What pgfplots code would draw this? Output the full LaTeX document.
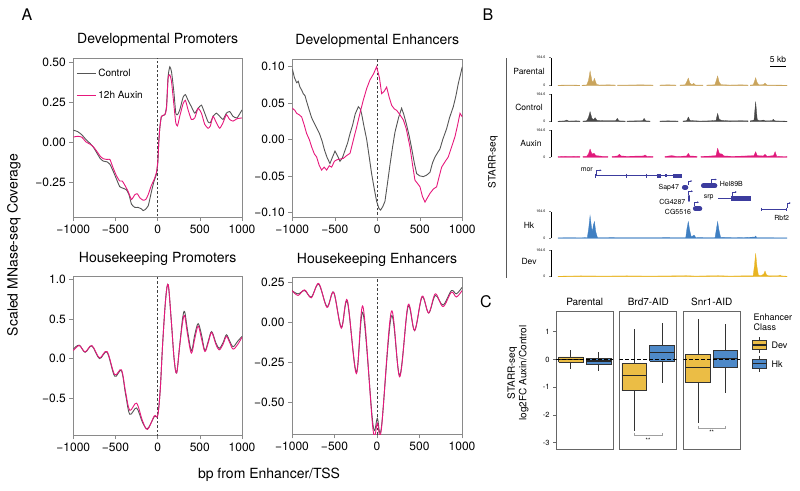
\documentclass[border=0pt]{standalone}
\usepackage{fontspec}
\setmainfont{TeX Gyre Heros}
\usepackage{pgfplots}
\pgfplotsset{compat=1.18}
\usetikzlibrary{arrows.meta}
\newcommand\fs[1]{\fontsize{#1}{#1}\selectfont}
\definecolor{ctrlc}{HTML}{555555}
\definecolor{auxc}{HTML}{E6187C}
\definecolor{framec}{HTML}{8A8A8A}
\definecolor{parc}{HTML}{C9A45C}
\definecolor{contc}{HTML}{474747}
\definecolor{auxtc}{HTML}{E0197B}
\definecolor{hkc}{HTML}{3F7FC2}
\definecolor{devc}{HTML}{E8B422}
\definecolor{genec}{HTML}{3C3C9E}
\definecolor{devbox}{HTML}{EBBD45}
\definecolor{hkbox}{HTML}{4E89C8}
\definecolor{boxc}{HTML}{333333}
\definecolor{facetc}{HTML}{666666}
\definecolor{brk}{HTML}{A0A0A0}
\pgfplotsset{
 panA/.style={scale only axis, anchor=south west, clip=true,
   xmin=-1000, xmax=1000, xtick={-1000,-500,0,500,1000},
   xticklabels={−1000,−500,0,500,1000},
   tick align=outside, xtick pos=left, ytick pos=left,
   major tick length=4pt, tick style={color=framec, line width=0.6pt},
   axis line style={color=framec, line width=0.7pt},
   ticklabel style={font=\fs{12}},
   title style={font=\fs{14}, yshift=2pt}},
 ctl/.style={color=ctrlc, line width=0.9pt},
 aux/.style={color=auxc, line width=0.9pt},
 zline/.style={color=black!75, line width=0.9pt, dash pattern=on 2.5pt off 2pt, forget plot},
 track/.style={scale only axis, anchor=south west, width=236pt,
   xmin=-3.06, xmax=100, ymin=0, ymax=164.6,
   axis x line=none, axis y line*=left, axis line style={-, line width=0.5pt},
   ytick={0,164.6}, yticklabels={0,164.6}, tick align=outside,
   major tick length=2pt, tick style={line width=0.5pt},
   yticklabel style={font=\fs{3.6}}},
 facet/.style={scale only axis, anchor=south west, height=137.3pt,
   xmin=0.47, xmax=2.53, ymin=-3.23, ymax=1.72, xtick=\empty, ytick=\empty,
   axis line style={color=facetc, line width=0.8pt}},
 med/.style={color=black!85, line width=1.3pt},
 zdash/.style={color=black, line width=0.8pt, dash pattern=on 3.5pt off 2.5pt},
 brkt/.style={color=brk, line width=0.6pt},
 par/.style={fill=parc, draw=parc, line width=0.3pt},
 con/.style={fill=contc, draw=contc, line width=0.3pt},
 axt/.style={fill=auxtc, draw=auxtc, line width=0.3pt},
}
% box: #1 x, #2 left, #3 right, #4 q1, #5 q3, #6 median, #7 lower whisker, #8 upper whisker, #9 fill
\newcommand\cbox[9]{%
 \addplot[color=boxc, line width=0.6pt] coordinates {(#1,#5) (#1,#8)};
 \addplot[color=boxc, line width=0.6pt] coordinates {(#1,#4) (#1,#7)};
 \addplot[draw=boxc, fill=#9, line width=0.6pt] coordinates {(#2,#4) (#3,#4) (#3,#5) (#2,#5) (#2,#4)};
 \addplot[med] coordinates {(#2,#6) (#3,#6)};
}
\begin{document}
\begin{tikzpicture}
\useasboundingbox (0,0) rectangle (800pt,-490pt);
\node[font=\fs{16}] at (27pt,-15pt) {A};
\node[font=\fs{16}] at (488pt,-15pt) {B};
\node[font=\fs{16}] at (486pt,-302pt) {C};
\node[font=\fs{14}, rotate=90] at (14pt,-245pt) {Scaled MNase-seq Coverage};
\node[font=\fs{14}] at (269pt,-475pt) {bp from Enhancer/TSS};

% ---------- A: Developmental Promoters
\begin{axis}[panA, at={(73.3pt,-217pt)}, width=168.7pt, height=159pt,
  ymin=-0.47, ymax=0.525, ytick={-0.25,0,0.25,0.5}, yticklabels={−0.25,0.00,0.25,0.50},
  title={Developmental Promoters},
  legend style={at={(0.0,0.955)}, anchor=north west, draw=none, fill=none, font=\fs{10}, row sep=9pt},
  legend cell align=left,
  legend image code/.code={\draw[#1] (0pt,0pt) -- (19pt,0pt);}]
\addplot[zline] coordinates {(0,-1) (0,1)};
\addplot[ctl, smooth, tension=0.3] coordinates {(-1000,0.073) (-950,0.065) (-900,0.045) (-850,0.015) (-800,-0.01) (-760,-0.035) (-720,-0.07) (-680,-0.105) (-645,-0.12) (-600,-0.125) (-566,-0.14) (-530,-0.18) (-490,-0.23) (-450,-0.28) (-410,-0.29) (-370,-0.30) (-340,-0.33) (-310,-0.39) (-270,-0.41) (-231,-0.41) (-191,-0.42) (-172,-0.43) (-152,-0.425) (-112,-0.40) (-73,-0.31) (-45,-0.25) (-14,-0.20) (2,-0.13) (14,0.01) (26,0.09) (45,0.16) (85,0.17) (105,0.22) (124,0.41) (144,0.47) (164,0.44) (191,0.32) (215,0.18) (235,0.17) (262,0.20) (302,0.28) (329,0.296) (361,0.26) (400,0.22) (440,0.18) (479,0.21) (519,0.23) (558,0.18) (598,0.125) (625,0.12) (657,0.16) (696,0.18) (736,0.16) (775,0.14) (815,0.18) (854,0.19) (894,0.16) (941,0.15) (1000,0.20)};
\addlegendentry{Control}
\addplot[aux, smooth, tension=0.3] coordinates {(-1000,0.03) (-950,0.035) (-900,0.03) (-850,0.0) (-800,-0.015) (-763,-0.03) (-720,-0.06) (-680,-0.09) (-645,-0.105) (-600,-0.11) (-566,-0.11) (-530,-0.16) (-490,-0.21) (-450,-0.245) (-420,-0.245) (-390,-0.27) (-350,-0.31) (-310,-0.36) (-270,-0.33) (-240,-0.325) (-211,-0.35) (-172,-0.365) (-140,-0.36) (-112,-0.33) (-73,-0.27) (-45,-0.24) (-14,-0.19) (2,-0.12) (14,0.0) (26,0.09) (45,0.16) (85,0.17) (105,0.21) (124,0.40) (144,0.42) (164,0.38) (191,0.24) (215,0.12) (235,0.10) (262,0.16) (302,0.24) (329,0.26) (361,0.2) (400,0.14) (440,0.15) (479,0.21) (519,0.18) (558,0.11) (598,0.085) (625,0.10) (657,0.16) (696,0.12) (736,0.085) (775,0.12) (815,0.17) (854,0.14) (894,0.13) (941,0.145) (1000,0.15)};
\addlegendentry{12h Auxin}
\end{axis}

% ---------- A: Developmental Enhancers
\begin{axis}[panA, at={(292.3pt,-217pt)}, width=170pt, height=158pt,
  ymin=-0.1065, ymax=0.1106, ytick={-0.1,-0.05,0,0.05,0.1}, yticklabels={−0.10,−0.05,0.00,0.05,0.10},
  title={Developmental Enhancers}]
\addplot[zline] coordinates {(0,-1) (0,1)};
\addplot[ctl] coordinates {(-1000,0.097) (-975,0.085) (-949,0.078) (-930,0.08) (-910,0.072) (-890,0.068) (-871,0.063) (-850,0.06) (-831,0.052) (-800,0.04) (-773,0.03) (-740,0.022) (-714,0.016) (-680,0.008) (-650,-0.002) (-620,-0.015) (-590,-0.025) (-557,-0.033) (-530,-0.025) (-498,-0.016) (-470,-0.022) (-439,-0.03) (-410,-0.025) (-380,-0.015) (-350,-0.005) (-321,0.008) (-290,0.02) (-260,0.035) (-223,0.045) (-200,0.042) (-184,0.035) (-160,0.02) (-125,0.0) (-100,-0.02) (-67,-0.047) (-40,-0.065) (-8,-0.085) (20,-0.095) (39,-0.097) (65,-0.092) (90,-0.085) (120,-0.06) (149,-0.035) (180,-0.01) (208,0.01) (250,0.03) (286,0.043) (310,0.035) (345,0.02) (375,0.005) (404,-0.012) (435,-0.032) (463,-0.047) (500,-0.05) (541,-0.051) (580,-0.049) (620,-0.045) (650,-0.032) (679,-0.024) (710,-0.018) (737,-0.013) (770,0.0) (816,0.015) (850,0.03) (894,0.045) (925,0.06) (953,0.077) (980,0.09) (1000,0.10)};
\addplot[aux] coordinates {(-1000,0.043) (-970,0.04) (-949,0.036) (-920,0.034) (-890,0.031) (-860,0.02) (-831,0.008) (-800,0.0) (-773,-0.010) (-740,-0.02) (-714,-0.024) (-685,-0.035) (-655,-0.042) (-625,-0.038) (-596,-0.042) (-565,-0.036) (-537,-0.038) (-505,-0.03) (-478,-0.028) (-440,-0.027) (-400,-0.026) (-360,-0.022) (-321,-0.019) (-280,0.0) (-243,0.017) (-200,0.038) (-165,0.054) (-125,0.07) (-86,0.082) (-45,0.09) (-8,0.10) (25,0.085) (51,0.063) (80,0.066) (110,0.072) (140,0.058) (169,0.047) (200,0.042) (228,0.040) (260,0.035) (306,0.027) (340,0.015) (384,-0.010) (415,-0.035) (443,-0.056) (470,-0.06) (502,-0.065) (530,-0.078) (561,-0.086) (590,-0.08) (620,-0.074) (660,-0.068) (698,-0.065) (730,-0.05) (757,-0.038) (800,-0.03) (835,-0.024) (875,-0.01) (914,0.004) (945,0.02) (973,0.036) (1000,0.031)};
\end{axis}

% ---------- A: Housekeeping Promoters
\begin{axis}[panA, at={(73.3pt,-435pt)}, width=168.7pt, height=158.3pt,
  ymin=-0.96, ymax=1.03, ytick={-0.5,0,0.5,1}, yticklabels={−0.5,0.0,0.5,1.0},
  title={Housekeeping Promoters}]
\addplot[zline] coordinates {(0,-2) (0,2)};
\addplot[ctl, smooth, tension=0.55] coordinates {(-1000,0.12) (-930,0.17) (-860,0.08) (-780,0.16) (-690,0.0) (-600,0.08) (-510,-0.22) (-430,-0.15) (-380,-0.45) (-330,-0.70) (-250,-0.62) (-180,-0.80) (-120,-0.88) (-40,-0.73) (0,-0.71) (30,-0.4) (60,0.2) (95,0.75) (125,0.93) (160,0.5) (195,0.0) (225,-0.18) (260,0.15) (295,0.5) (320,0.59) (355,0.35) (400,0.1) (440,0.3) (480,0.44) (520,0.3) (560,0.1) (600,0.22) (640,0.34) (690,0.2) (730,0.13) (775,0.2) (815,0.3) (855,0.22) (895,0.15) (950,0.22) (1000,0.28)};
\addplot[aux, smooth, tension=0.55] coordinates {(-1000,0.10) (-930,0.165) (-860,0.085) (-780,0.165) (-690,0.01) (-600,0.09) (-510,-0.20) (-430,-0.14) (-380,-0.42) (-330,-0.65) (-250,-0.56) (-180,-0.78) (-120,-0.89) (-40,-0.72) (0,-0.72) (30,-0.4) (60,0.2) (95,0.75) (125,0.93) (160,0.5) (195,0.0) (225,-0.18) (260,0.15) (295,0.45) (320,0.54) (355,0.3) (400,0.07) (440,0.25) (480,0.41) (520,0.25) (560,0.09) (600,0.2) (640,0.33) (690,0.18) (730,0.11) (775,0.18) (815,0.28) (855,0.2) (895,0.12) (950,0.18) (1000,0.27)};
\end{axis}

% ---------- A: Housekeeping Enhancers
\begin{axis}[panA, at={(292pt,-434.3pt)}, width=170pt, height=156.6pt,
  ymin=-0.70, ymax=0.281, ytick={-0.5,-0.25,0,0.25}, yticklabels={−0.50,−0.25,0.00,0.25},
  title={Housekeeping Enhancers}]
\addplot[zline] coordinates {(0,-2) (0,2)};
\addplot[ctl, smooth, tension=0.55] coordinates {(-1000,0.20) (-929,0.18) (-851,0.20) (-773,0.16) (-686,0.24) (-588,0.10) (-510,0.19) (-420,-0.03) (-349,0.13) (-243,-0.31) (-165,0.06) (-47,-0.64) (4,-0.60) (51,-0.66) (169,0.04) (267,-0.33) (365,0.10) (443,-0.05) (530,0.16) (608,0.06) (686,0.17) (777,0.11) (875,0.20) (934,0.18) (1000,0.22)};
\addplot[aux, smooth, tension=0.55] coordinates {(-1000,0.20) (-929,0.17) (-851,0.205) (-773,0.155) (-686,0.245) (-588,0.095) (-510,0.19) (-420,-0.035) (-349,0.14) (-243,-0.32) (-165,0.10) (-47,-0.67) (4,-0.63) (51,-0.67) (169,0.07) (267,-0.34) (365,0.11) (443,-0.05) (530,0.165) (608,0.06) (686,0.18) (777,0.10) (875,0.19) (934,0.16) (1000,0.20)};
\end{axis}

% ---------- B: genome browser
\draw[color=black!65, line width=0.8pt] (506pt,-58pt) -- (506pt,-278pt);
\node[font=\fs{10}, rotate=90] at (493pt,-162pt) {STARR-seq};
\draw[line width=0.9pt] (770pt,-66pt) -- (786pt,-66pt);
\node[font=\fs{8.5}] at (778pt,-59pt) {5 kb};
\node[font=\fs{8.5}] at (529pt,-71.7pt) {Parental};
\node[font=\fs{8.5}] at (529pt,-107.7pt) {Control};
\node[font=\fs{8.5}] at (531pt,-143.3pt) {Auxin};
\node[font=\fs{8.5}] at (529pt,-225.7pt) {Hk};
\node[font=\fs{8.5}] at (529pt,-261.7pt) {Dev};

\begin{axis}[track, at={(551pt,-85.7pt)}, height=28pt]
\addplot[par] coordinates {(0,3) (5,4) (9.5,3)} \closedcycle;
\addplot[par] coordinates {(10.5,3) (12.5,4) (13.3,30) (14,86) (14.8,30) (15.3,20) (15.9,43) (16.8,8) (18,4) (22,5) (25,4)} \closedcycle;
\addplot[par] coordinates {(26,4) (30,4) (36,5) (41.5,4)} \closedcycle;
\addplot[par] coordinates {(44.5,4) (48,5) (51.5,4)} \closedcycle;
\addplot[par] coordinates {(53.3,4) (55.5,5) (56.3,25) (56.9,45) (57.6,15) (58.5,6) (59.2,14) (60,4) (63.3,4)} \closedcycle;
\addplot[par] coordinates {(65,4) (68.5,5) (69.1,30) (69.7,57) (70.4,20) (71.2,6) (75,4) (80,5) (83,4)} \closedcycle;
\addplot[par] coordinates {(84,4) (85.2,5) (85.8,25) (86.3,47) (86.9,20) (87.7,5) (89.7,6) (90.4,16) (91.2,4) (100,3)} \closedcycle;
\end{axis}
\begin{axis}[track, at={(551pt,-121.7pt)}, height=27.4pt]
\addplot[con] coordinates {(0,3) (3,5) (3.8,10) (4.6,4) (8,5) (9.6,4)} \closedcycle;
\addplot[con] coordinates {(10.9,4) (12.5,5) (13.3,25) (14,60) (14.8,20) (15.5,12) (16.2,24) (17,8) (20,6) (25.2,6) (25.9,20) (26.6,5) (29.3,4)} \closedcycle;
\addplot[con] coordinates {(30.1,4) (34,5) (37,6) (37.6,20) (38.3,5) (40.2,4)} \closedcycle;
\addplot[con] coordinates {(44.5,4) (48,5) (52.4,4)} \closedcycle;
\addplot[con] coordinates {(54.6,4) (56.2,6) (56.9,28) (57.6,8) (59,6) (62,4) (66,5) (69,8) (69.7,50) (70.4,14) (71.5,8) (75,5) (80,6) (83,5)} \closedcycle;
\addplot[con] coordinates {(84,5) (85.6,10) (86.3,120) (87,12) (88,6) (89.7,10) (90.5,5) (93.5,6) (94,14) (94.6,5) (100,3)} \closedcycle;
\end{axis}
\begin{axis}[track, at={(551pt,-157.3pt)}, height=27.3pt]
\addplot[axt] coordinates {(0,4) (2,6) (5,5) (8,6) (9.6,5)} \closedcycle;
\addplot[axt] coordinates {(10.9,5) (12.5,6) (13.3,20) (14,50) (14.8,20) (15.7,24) (16.6,10) (18,8) (20,5) (21.8,5)} \closedcycle;
\addplot[axt] coordinates {(23.6,5) (26,8) (26.8,18) (27.6,8) (30,6) (37.3,8) (38,14) (38.8,6) (41.5,5)} \closedcycle;
\addplot[axt] coordinates {(46.7,5) (49.6,10) (52,5) (56.2,8) (56.9,24) (57.6,8) (60.7,6)} \closedcycle;
\addplot[axt] coordinates {(62.4,6) (66,7) (69,10) (69.7,54) (70.5,22) (71.5,20) (72.5,8) (76,6) (80,7) (85.6,10) (86.3,34) (87,10) (89.7,8) (90.4,18) (91.2,6) (94.1,10) (94.8,34) (95.5,6) (100,4)} \closedcycle;
\end{axis}
\begin{axis}[track, at={(551pt,-238.3pt)}, height=26.6pt]
\addplot[fill=hkc, draw=hkc, line width=0.3pt] coordinates {(0,3) (5,4) (10,3) (12.8,5) (13.4,60) (14,140) (14.6,70) (15.0,40) (15.4,80) (15.9,103) (16.5,40) (17.2,5) (25,4) (35,4) (45,4) (55.8,5) (56.3,60) (56.9,103) (57.5,50) (58.2,8) (59.4,20) (60.2,4) (68.6,5) (69.2,60) (69.7,103) (70.3,50) (71,6) (80,4) (86,8) (86.3,14) (86.8,4) (100,3)} \closedcycle;
\end{axis}
\begin{axis}[track, at={(551pt,-276.7pt)}, height=26.7pt]
\addplot[fill=devc, draw=devc, line width=0.3pt] coordinates {(0,3) (10,5) (20,4) (30,5) (40,4) (50,5) (56,6) (60,4) (65,5) (70,6) (75,4) (80,5) (85.2,5) (85.8,70) (86.3,144) (86.9,60) (87.5,10) (88.5,6) (89.8,15) (90.4,35) (91,12) (92,5) (96.5,6) (97,10) (97.5,5) (100,3)} \closedcycle;
\end{axis}

% gene models
\begin{axis}[scale only axis, anchor=south west, at={(551pt,-222pt)}, width=236pt, height=60pt,
  xmin=-3.06, xmax=100, ymin=162, ymax=222, y dir=reverse, hide axis, clip=false]
\addplot[genec, line width=0.7pt] coordinates {(16.2,175.7) (54.1,175.7)};
\addplot[genec, line width=0.6pt] coordinates {(16.2,173.7) (16.2,177.7)};
\addplot[genec, line width=0.6pt] coordinates {(29.7,173.5) (29.7,178)};
\addplot[genec, line width=0.6pt] coordinates {(38.7,173.5) (38.7,178)};
\addplot[genec, line width=4pt] coordinates {(43.1,175.7) (44.8,175.7)};
\addplot[genec, line width=3pt] coordinates {(46.8,175.7) (47.6,175.7)};
\addplot[genec, line width=4pt] coordinates {(50.4,175.7) (54.0,175.7)};
\addplot[genec, line width=0.5pt, -{Stealth[length=1.8pt,width=1.8pt]}] coordinates {(16.7,175.7) (16.7,170.3) (19.0,170.3)};
\addplot[genec, line width=5pt, line cap=round] coordinates {(55.2,187.3) (55.8,187.3)};
\addplot[genec, line width=0.5pt, -{Stealth[length=1.8pt,width=1.8pt]}] coordinates {(56.8,184.5) (56.8,181) (58.6,181)};
\addplot[genec, line width=5pt, line cap=round] coordinates {(63.5,185.8) (68.5,185.8)};
\addplot[genec, line width=0.5pt, -{Stealth[length=1.8pt,width=1.8pt]}] coordinates {(67.1,183) (67.1,179.5) (69.3,179.5)};
\addplot[genec, line width=2.5pt, line cap=round] coordinates {(57.2,196) (57.2,200.7)};
\addplot[genec, line width=0.5pt, -{Stealth[length=1.8pt,width=1.8pt]}] coordinates {(56.9,194.5) (56.9,191.2) (58.9,191.2)};
\addplot[genec, line width=0.7pt] coordinates {(70.0,198.3) (84.1,198.3)};
\addplot[genec, line width=5pt] coordinates {(75.4,198.3) (84.1,198.3)};
\addplot[genec, line width=0.5pt, -{Stealth[length=1.8pt,width=1.8pt]}] coordinates {(75.9,195.5) (75.9,192) (78.0,192)};
\addplot[genec, line width=5pt, line cap=round] coordinates {(60.0,208.8) (61.9,208.8)};
\addplot[genec, line width=0.5pt, -{Stealth[length=1.8pt,width=1.8pt]}] coordinates {(59.5,206) (59.5,202.2) (61.5,202.2)};
\addplot[genec, line width=0.7pt] coordinates {(88.6,209.3) (99.6,209.3)};
\addplot[genec, line width=0.6pt] coordinates {(88.6,207.5) (88.6,211)};
\addplot[genec, line width=0.6pt] coordinates {(99.6,207.5) (99.6,211)};
\addplot[genec, line width=0.5pt, -{Stealth[length=1.8pt,width=1.8pt]}] coordinates {(99.9,207.5) (99.9,203) (101.6,203)};
\node[font=\fs{7}, anchor=east, inner sep=0.5pt] at (axis cs:15.5,170) {mor};
\node[font=\fs{7}, anchor=east, inner sep=0.5pt] at (axis cs:53.1,187.3) {Sap47};
\node[font=\fs{7}, anchor=east, inner sep=0.5pt] at (axis cs:55.9,201.7) {CG4287};
\node[font=\fs{7}, anchor=east, inner sep=0.5pt] at (axis cs:58.4,212.3) {CG5516};
\node[font=\fs{7}, anchor=west, inner sep=0.5pt] at (axis cs:70.4,184) {Hel89B};
\node[font=\fs{7}, inner sep=0.5pt] at (axis cs:65.8,197.7) {srp};
\node[font=\fs{7}, inner sep=0.5pt] at (axis cs:97.7,217.7) {Rbf2};
\end{axis}

% ---------- C: boxplots
\node[font=\fs{10}] at (584.7pt,-301.7pt) {Parental};
\node[font=\fs{10}] at (648.3pt,-301.7pt) {Brd7-AID};
\node[font=\fs{10}] at (711.7pt,-301.7pt) {Snr1-AID};
\node[font=\fontsize{10}{11.5}\selectfont, rotate=90, align=center] at (518pt,-373pt) {STARR-seq\\log2FC Auxin/Control};

\begin{axis}[facet, at={(556pt,-449pt)}, width=57.3pt,
  ytick={-3,-2,-1,0,1}, yticklabels={-3,-2,-1,0,1}, ytick pos=left, tick align=outside,
  major tick length=3pt, tick style={color=facetc, line width=0.6pt},
  yticklabel style={font=\fs{7.5}}]
\cbox{1}{0.56}{1.44}{-0.11}{0.09}{0}{-0.36}{0.33}{devbox}
\cbox{2}{1.56}{2.44}{-0.17}{0.04}{-0.06}{-0.42}{0.27}{hkbox}
\addplot[zdash] coordinates {(0.47,0) (2.53,0)};
\end{axis}

\begin{axis}[facet, at={(619.3pt,-449pt)}, width=57.4pt]
\cbox{1}{0.56}{1.44}{-1.13}{-0.14}{-0.59}{-2.57}{1.08}{devbox}
\cbox{2}{1.56}{2.44}{-0.06}{0.51}{0.24}{-0.86}{1.32}{hkbox}
\addplot[zdash] coordinates {(0.47,0) (2.53,0)};
\addplot[brkt] coordinates {(1,-2.64) (1,-2.75) (2,-2.75) (2,-2.64)};
\node[font=\fs{6}] at (axis cs:1.5,-2.92) {**};
\end{axis}

\begin{axis}[facet, at={(683.3pt,-449pt)}, width=56.7pt]
\cbox{1}{0.56}{1.44}{-0.84}{0.18}{-0.29}{-2.3}{1.47}{devbox}
\cbox{2}{1.56}{2.44}{-0.29}{0.33}{0.04}{-1.22}{1.29}{hkbox}
\addplot[zdash] coordinates {(0.47,0) (2.53,0)};
\addplot[brkt] coordinates {(1,-2.39) (1,-2.48) (2,-2.48) (2,-2.39)};
\node[font=\fs{6}] at (axis cs:1.5,-2.64) {**};
\end{axis}

% legend C
\node[font=\fs{9}, anchor=west] at (750pt,-317pt) {Enhancer};
\node[font=\fs{9}, anchor=west] at (750pt,-327.5pt) {Class};
\draw[boxc, line width=0.6pt] (759.7pt,-337.3pt) -- (759.7pt,-352.7pt);
\draw[boxc, fill=devbox, line width=0.6pt] (752.7pt,-340.7pt) rectangle (766.7pt,-349.3pt);
\draw[black!85, line width=1.1pt] (752.7pt,-345pt) -- (766.7pt,-345pt);
\node[font=\fs{9}, anchor=west] at (768pt,-345.5pt) {Dev};
\draw[boxc, line width=0.6pt] (759.7pt,-355.7pt) -- (759.7pt,-371.7pt);
\draw[boxc, fill=hkbox, line width=0.6pt] (752.7pt,-359pt) rectangle (766.7pt,-368.3pt);
\draw[black!85, line width=1.1pt] (752.7pt,-363.7pt) -- (766.7pt,-363.7pt);
\node[font=\fs{9}, anchor=west] at (768pt,-364pt) {Hk};
\end{tikzpicture}
\end{document}
